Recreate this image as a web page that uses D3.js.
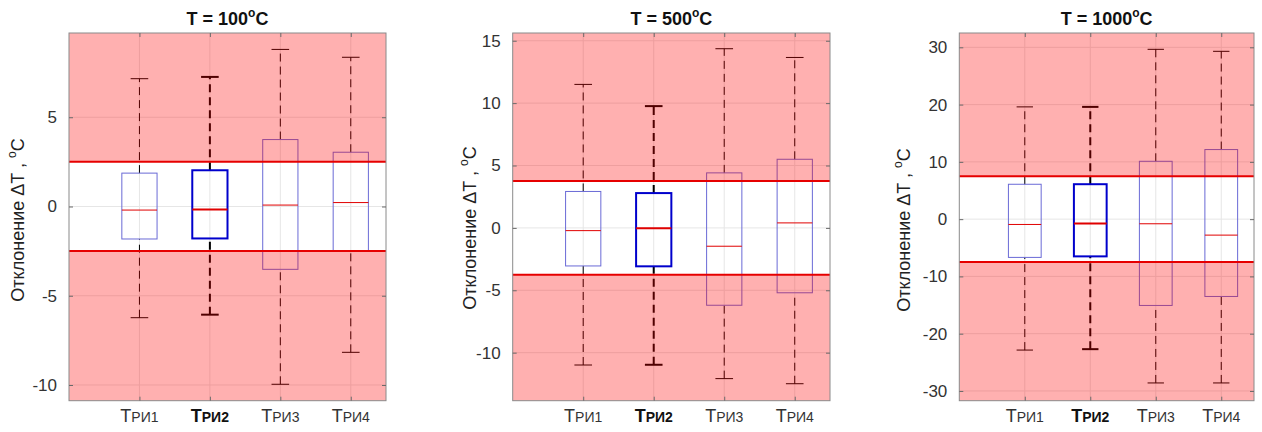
<!DOCTYPE html>
<html>
<head>
<meta charset="utf-8">
<script src="https://cdn.jsdelivr.net/npm/d3@7"></script>
<style>
  html, body { margin: 0; padding: 0; background: #fff; }
  svg { display: block; font-family: Arial, "Liberation Sans", Helvetica, sans-serif; }
</style>
</head>
<body>
<svg id="chart" width="1262" height="432"></svg>
<script>
// Sensor labels (subscript part after "T")
const categories = ["РИ1", "РИ2", "РИ3", "РИ4"];
const boldCategory = 1;

// Temperatures of the three panels, °C
const temperatures = [100, 500, 1000];

// Box statistics: lower whisker, Q1, median, Q3, upper whisker
const whiskerLow100  = [-6.23, -6.06, -9.96, -8.17];
const q1_100         = [-1.82, -1.79, -3.52, -2.50];
const median100      = [-0.20, -0.17, 0.08, 0.22];
const q3_100         = [1.87, 2.03, 3.75, 3.04];
const whiskerHigh100 = [7.16, 7.26, 8.80, 8.36];

const whiskerLow500  = [-10.99, -10.97, -12.08, -12.49];
const q1_500         = [-3.05, -3.08, -6.20, -5.20];
const median500      = [-0.22, -0.03, -1.47, 0.40];
const q3_500         = [2.92, 2.79, 4.41, 5.50];
const whiskerHigh500 = [11.50, 9.76, 14.36, 13.66];

const whiskerLow1000  = [-22.86, -22.70, -28.60, -28.60];
const q1_1000         = [-6.68, -6.50, -15.07, -13.50];
const median1000      = [-0.93, -0.76, -0.81, -2.79];
const q3_1000         = [6.09, 6.10, 10.10, 12.15];
const whiskerHigh1000 = [19.60, 19.60, 29.65, 29.30];

// Tolerance band (±) for each temperature
const tolerance = [2.5, 3.75, 7.5];

// Y axis ranges and ticks
const yDomains = [[-10.88, 9.72], [-13.85, 15.62], [-31.7, 32.5]];
const yTicks = [[-10, -5, 0, 5], [-10, -5, 0, 5, 10, 15], [-30, -20, -10, 0, 10, 20, 30]];

const stats = [
  [whiskerLow100, q1_100, median100, q3_100, whiskerHigh100],
  [whiskerLow500, q1_500, median500, q3_500, whiskerHigh500],
  [whiskerLow1000, q1_1000, median1000, q3_1000, whiskerHigh1000]
];

// Layout of the three axes
const layout = [
  { x0: 69,    x1: 386,  labelX: 24,  labelY: 220 },
  { x0: 512.7, x1: 830,  labelX: 476, labelY: 228 },
  { x0: 959.3, x1: 1254, labelX: 910, labelY: 230 }
];
const plotTop = 33, plotBottom = 400.7;

const svg = d3.select("#chart");

temperatures.forEach((temp, p) => {
  const L = layout[p];
  const [wLo, q1, med, q3, wHi] = stats[p];
  const g = svg.append("g");

  const x = d3.scaleLinear().domain([0, 4.5]).range([L.x0, L.x1]);
  const y = d3.scaleLinear().domain(yDomains[p]).range([plotBottom, plotTop]);
  const pos = categories.map((c, i) => i + 1);

  // background
  g.append("rect").attr("x", L.x0).attr("y", plotTop)
    .attr("width", L.x1 - L.x0).attr("height", plotBottom - plotTop).attr("fill", "#fff");

  // grid
  g.selectAll(".gy").data(yTicks[p]).join("line")
    .attr("x1", L.x0).attr("x2", L.x1)
    .attr("y1", d => y(d)).attr("y2", d => y(d))
    .attr("stroke", "#e6e6e6").attr("stroke-width", 1);
  g.selectAll(".gx").data(pos).join("line")
    .attr("x1", d => x(d)).attr("x2", d => x(d))
    .attr("y1", plotTop).attr("y2", plotBottom)
    .attr("stroke", "#e6e6e6").attr("stroke-width", 1);

  const half = 0.25, cap = 0.125;
  pos.forEach((d, i) => {
    const bold = i === boldCategory;
    const lw = bold ? 2 : 1;
    const boxColor = bold ? "#0000cc" : "#6a6ad6";
    // whiskers
    [[q3[i], wHi[i]], [wLo[i], q1[i]]].forEach(([a, b]) => {
      g.append("line").attr("x1", x(d)).attr("x2", x(d))
        .attr("y1", y(a)).attr("y2", y(b))
        .attr("stroke", "#000").attr("stroke-width", lw)
        .attr("stroke-dasharray", "8,5");
    });
    [wLo[i], wHi[i]].forEach(v => {
      g.append("line").attr("x1", x(d - cap)).attr("x2", x(d + cap))
        .attr("y1", y(v)).attr("y2", y(v))
        .attr("stroke", "#000").attr("stroke-width", lw);
    });
    // box
    g.append("rect")
      .attr("x", x(d - half)).attr("y", y(q3[i]))
      .attr("width", x(d + half) - x(d - half))
      .attr("height", y(q1[i]) - y(q3[i]))
      .attr("fill", "none").attr("stroke", boxColor).attr("stroke-width", lw);
    // median
    g.append("line").attr("x1", x(d - half)).attr("x2", x(d + half))
      .attr("y1", y(med[i])).attr("y2", y(med[i]))
      .attr("stroke", "#e00000").attr("stroke-width", lw);
  });

  // out-of-tolerance zones, translucent red over the plot
  const tol = tolerance[p];
  g.append("rect").attr("x", L.x0).attr("y", plotTop)
    .attr("width", L.x1 - L.x0).attr("height", y(tol) - plotTop)
    .attr("fill", "#ff0000").attr("fill-opacity", 0.31);
  g.append("rect").attr("x", L.x0).attr("y", y(-tol))
    .attr("width", L.x1 - L.x0).attr("height", plotBottom - y(-tol))
    .attr("fill", "#ff0000").attr("fill-opacity", 0.31);
  [tol, -tol].forEach(v => {
    g.append("line").attr("x1", L.x0).attr("x2", L.x1)
      .attr("y1", y(v)).attr("y2", y(v))
      .attr("stroke", "#e60000").attr("stroke-width", 2);
  });

  // frame
  g.append("rect").attr("x", L.x0).attr("y", plotTop)
    .attr("width", L.x1 - L.x0).attr("height", plotBottom - plotTop)
    .attr("fill", "none").attr("stroke", "#8a8a8a").attr("stroke-width", 1);

  // y axis (ticks inward, mirrored on the right)
  const yAxis = d3.axisLeft(y).tickValues(yTicks[p]).tickSize(-4).tickPadding(12)
    .tickFormat(d => String(d));
  const ya = g.append("g").attr("transform", `translate(${L.x0},0)`).call(yAxis);
  ya.select(".domain").remove();
  ya.selectAll(".tick line").attr("stroke", "#6a6a6a");
  ya.selectAll(".tick text").attr("fill", "#333").attr("font-size", 17)
    .attr("font-family", "Arial, 'Liberation Sans', sans-serif");
  const yR = g.append("g").attr("transform", `translate(${L.x1},0)`)
    .call(d3.axisRight(y).tickValues(yTicks[p]).tickSize(-4).tickFormat(""));
  yR.select(".domain").remove();
  yR.selectAll(".tick line").attr("stroke", "#6a6a6a");

  // x axis ticks, top and bottom, inward
  const xa = g.append("g").attr("transform", `translate(0,${plotBottom})`)
    .call(d3.axisBottom(x).tickValues(pos).tickSize(-4).tickFormat(""));
  xa.select(".domain").remove();
  xa.selectAll(".tick line").attr("stroke", "#6a6a6a");
  const xt = g.append("g").attr("transform", `translate(0,${plotTop})`)
    .call(d3.axisTop(x).tickValues(pos).tickSize(-4).tickFormat(""));
  xt.select(".domain").remove();
  xt.selectAll(".tick line").attr("stroke", "#6a6a6a");

  // category labels: "T" with smaller sensor id
  pos.forEach((d, i) => {
    const t = g.append("text").attr("x", x(d)).attr("y", 422)
      .attr("text-anchor", "middle").attr("fill", i === boldCategory ? "#111" : "#333")
      .attr("font-weight", i === boldCategory ? "bold" : "normal");
    t.append("tspan").attr("font-size", 18).text("Т");
    t.append("tspan").attr("font-size", 14).text(categories[i]);
  });

  // title
  const title = g.append("text").attr("x", (L.x0 + L.x1) / 2).attr("y", 25)
    .attr("text-anchor", "middle").attr("font-weight", "bold").attr("font-size", 18).attr("fill", "#111");
  title.append("tspan").text(`T = ${temp}`);
  title.append("tspan").attr("font-size", 12).attr("dy", -8).text("o");
  title.append("tspan").attr("dy", 8).text("C");

  // y label
  const yl = g.append("text")
    .attr("transform", `translate(${L.labelX},${L.labelY}) rotate(-90)`)
    .attr("text-anchor", "middle").attr("font-size", 18).attr("fill", "#222");
  yl.append("tspan").text("Отклонение ΔT , ");
  yl.append("tspan").attr("font-size", 12).attr("dy", -8).text("o");
  yl.append("tspan").attr("dy", 8).text("C");
});
</script>
</body>
</html>
